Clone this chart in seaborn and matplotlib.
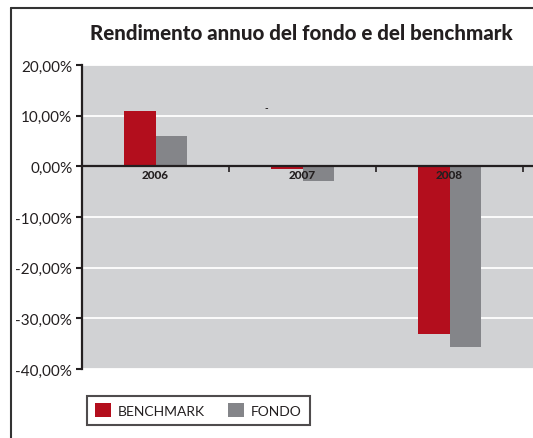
import seaborn as sns
import pandas as pd
import matplotlib.pyplot as plt
from matplotlib.lines import Line2D

years = ['2006', '2007', '2008']
benchmark = [11.0, -0.6, -33.0]
fondo = [5.9, -2.8, -35.6]
yticks = [20, 10, 0, -10, -20, -30, -40]

df = pd.DataFrame({
    'anno': years * 2,
    'rendimento': benchmark + fondo,
    'serie': ['BENCHMARK'] * 3 + ['FONDO'] * 3,
})

sns.set_style('white')
plt.rcParams['font.family'] = ['Lato', 'DejaVu Sans']

fig = plt.figure(figsize=(5.33, 4.39), dpi=100)
ax = fig.add_axes([82 / 533, 1 - 370 / 439, 1 - 82 / 533, (370 - 66) / 439])
ax.set_facecolor('#d1d2d4')
ax.set_axisbelow(False)

sns.barplot(data=df, x='anno', y='rendimento', hue='serie',
            palette=['#b30e1d', '#848589'], width=0.43, ax=ax,
            saturation=1, legend=True, zorder=1, linewidth=0)

for t in yticks:
    ax.axhline(t, color='white', lw=1.3, zorder=0.5)

ax.set_ylim(-40, 20)
ax.set_xlim(-0.5, 2.568)
ax.set_yticks(yticks)
ax.yaxis.set_major_formatter(plt.FuncFormatter(lambda v, _: '{:.2f}%'.format(v).replace('.', ',')))
ax.tick_params(axis='y', direction='out', length=4, width=1.5, color='#231f20',
               labelsize=11, labelcolor='#231f20', pad=3, left=True)

ax.spines['bottom'].set_position(('data', 0))
ax.spines['bottom'].set_linewidth(1.6)
ax.spines['bottom'].set_color('#231f20')
ax.spines['left'].set_linewidth(1.6)
ax.spines['left'].set_color('#231f20')
ax.spines['top'].set_visible(False)
ax.spines['right'].set_visible(False)

ax.set_xticks([0.5, 1.5, 2.5], minor=True)
ax.tick_params(axis='x', which='minor', direction='out', length=4, width=1.2,
               color='#231f20', bottom=True)
ax.tick_params(axis='x', which='major', length=0, pad=2, labelsize=8.5,
               labelcolor='#231f20')
for lbl in ax.get_xticklabels():
    lbl.set_fontweight('black')

ax.set_xlabel('')
ax.set_ylabel('')

# stray mark in the original chart
ax.text(0.75, 11.6, '-', fontsize=7, fontweight='bold', ha='center', va='center', color='#231f20')

handles, labels = ax.get_legend_handles_labels()
ax.legend_.remove()
leg = fig.legend(handles, labels, loc='lower left', ncol=2,
                 bbox_to_anchor=(80 / 533, 1 - 433 / 439), frameon=True,
                 fancybox=False, fontsize=10, handlelength=1.2, handleheight=1.2,
                 columnspacing=1.6, handletextpad=0.5, borderpad=0.55,
                 labelcolor='#231f20')
leg.get_frame().set_edgecolor('#231f20')
leg.get_frame().set_linewidth(1.5)

fig.text(301 / 533, 1 - 33 / 439, 'Rendimento annuo del fondo e del benchmark',
         ha='center', va='center', fontsize=14.8, fontweight='black', color='#231f20')

fig.add_artist(Line2D([11 / 533, 11 / 533], [0, 1 - 9 / 439], color='#333333', lw=1.5))
fig.add_artist(Line2D([11 / 533, 1], [1 - 9 / 439, 1 - 9 / 439], color='#333333', lw=1.5))

fig.savefig('out.png', dpi=100, facecolor='white')
